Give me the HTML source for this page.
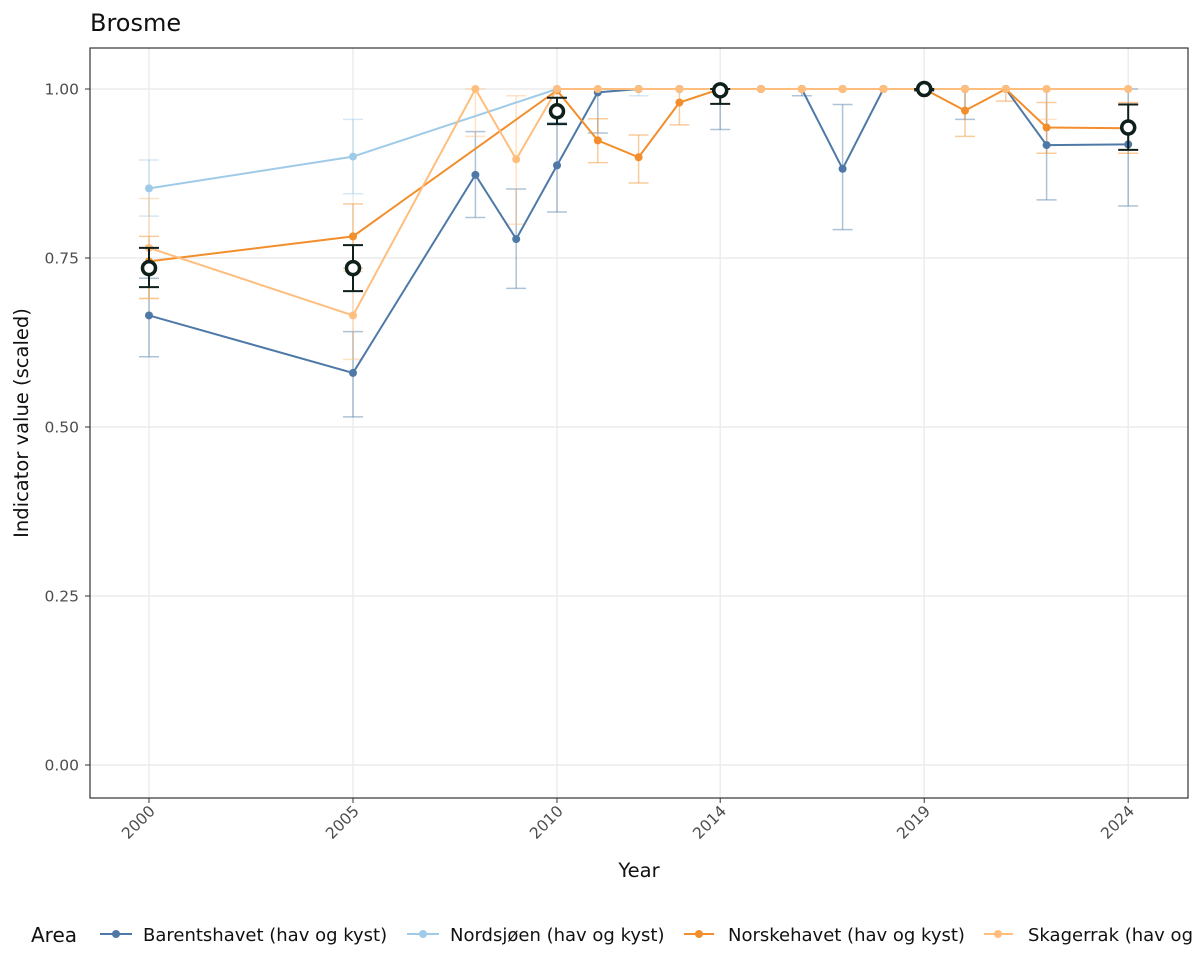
<!DOCTYPE html><html><head><meta charset="utf-8"><style>body{margin:0;background:#fff}svg{display:block;font-family:"DejaVu Sans","Liberation Sans",sans-serif}</style></head><body>
<svg id="s" width="1200" height="975" xmlns="http://www.w3.org/2000/svg">
<rect width="1200" height="975" fill="#fff"/>
<text x="90" y="31" font-size="24" fill="#111">Brosme</text>
<g id="grid"></g>
<rect x="90" y="48" width="1098" height="750" fill="none" stroke="#333" stroke-width="1.2"/>
<g id="data"></g>
<g id="axes" font-size="15.5" fill="#4d4d4d"></g>
<text x="639" y="877" font-size="19.5" text-anchor="middle" fill="#111">Year</text>
<text transform="translate(28,423) rotate(-90)" font-size="19.5" text-anchor="middle" fill="#111">Indicator value (scaled)</text>
<g font-size="18" fill="#111">
<text x="31" y="942" font-size="20">Area</text>
<line x1="100" y1="934" x2="132" y2="934" stroke="#4e79a7" stroke-width="2"/><circle cx="116" cy="934" r="4" fill="#4e79a7"/>
<text x="143" y="941">Barentshavet (hav og kyst)</text>
<line x1="407" y1="934" x2="439" y2="934" stroke="#a0cbe8" stroke-width="2"/><circle cx="423" cy="934" r="4" fill="#a0cbe8"/>
<text x="450" y="941">Nordsjøen (hav og kyst)</text>
<line x1="684" y1="934" x2="714" y2="934" stroke="#f28e2b" stroke-width="2"/><circle cx="699" cy="934" r="4" fill="#f28e2b"/>
<text x="728" y="941">Norskehavet (hav og kyst)</text>
<line x1="984" y1="934" x2="1013" y2="934" stroke="#ffbe7d" stroke-width="2"/><circle cx="998" cy="934" r="4" fill="#ffbe7d"/>
<text x="1028" y="941">Skagerrak (hav og kyst)</text>
</g>
</svg>
<script>
const NS="http://www.w3.org/2000/svg";
const X=y=>149+(y-2000)*40.8, Y=v=>765-676*v;
function el(p,t,a,txt){const e=document.createElementNS(NS,t);for(const k in a)e.setAttribute(k,a[k]);if(txt)e.textContent=txt;document.getElementById(p).appendChild(e);return e;}
[0,0.25,0.5,0.75,1].forEach(v=>{el("grid","line",{x1:90,x2:1188,y1:Y(v),y2:Y(v),stroke:"#ebebeb","stroke-width":1.4});
 el("axes","text",{x:79,y:Y(v)+5.5,"text-anchor":"end"},v.toFixed(2));el("axes","line",{x1:85,x2:90,y1:Y(v),y2:Y(v),stroke:"#333"});});
[2000,2005,2010,2014,2019,2024].forEach(y=>{el("grid","line",{x1:X(y),x2:X(y),y1:48,y2:798,stroke:"#ebebeb","stroke-width":1.4});
 el("axes","line",{x1:X(y),x2:X(y),y1:798,y2:803,stroke:"#333"});
 el("axes","text",{transform:`translate(${X(y)+7},${812}) rotate(-45)`,"text-anchor":"end"},String(y));});
const S=[
{c:"#a0cbe8",d:[[2000,.853,.812,.895],[2005,.9,.845,.955],[2010,1],[2011,1],[2012,1,.99,1],[2013,1],[2014,1],[2015,1],[2016,1],[2017,1],[2018,1],[2019,1],[2020,1],[2021,1],[2022,1],[2024,1]]},
{c:"#4e79a7",d:[[2000,.665,.604,.72],[2005,.58,.515,.641],[2008,.873,.81,.937],[2009,.778,.705,.852],[2010,.887,.818,.95],[2011,.995,.935,1],[2012,1],[2013,1],[2014,1,.94,1],[2015,1],[2016,1,.99,1],[2017,.882,.792,.977],[2018,1],[2019,1],[2020,1,.955,1],[2021,1],[2022,.917,.836,1],[2024,.918,.827,1]]},
{c:"#f28e2b",d:[[2000,.745,.69,.782],[2005,.782,.735,.83],[2010,.998],[2011,.924,.891,.956],[2012,.899,.861,.932],[2013,.98,.947,1],[2014,1],[2015,1],[2016,1],[2017,1],[2018,1],[2019,1],[2020,.968,.93,1],[2021,1,.982,1],[2022,.943,.905,.98],[2024,.942,.905,.98]]},
{c:"#ffbe7d",d:[[2000,.765,.69,.838],[2005,.665,.6,.73],[2008,1,.93,1],[2009,.896,.8,.99],[2010,1],[2011,1],[2012,1],[2013,1],[2014,1],[2015,1],[2016,1],[2017,1],[2018,1],[2019,1],[2020,1],[2021,1],[2022,1,.955,1],[2024,1]]}];
S.forEach(s=>{s.d.forEach(p=>{if(p.length>2){const x=X(p[0]);const a={stroke:s.c,"stroke-opacity":.45,"stroke-width":1.5};
 el("data","line",Object.assign({x1:x,x2:x,y1:Y(p[2]),y2:Y(p[3])},a));el("data","line",Object.assign({x1:x-10,x2:x+10,y1:Y(p[2]),y2:Y(p[2])},a));el("data","line",Object.assign({x1:x-10,x2:x+10,y1:Y(p[3]),y2:Y(p[3])},a));}});});
S.forEach(s=>{el("data","polyline",{points:s.d.map(p=>X(p[0])+","+Y(p[1])).join(" "),fill:"none",stroke:s.c,"stroke-width":2});
 s.d.forEach(p=>el("data","circle",{cx:X(p[0]),cy:Y(p[1]),r:4,fill:s.c}));});
[[2000,.735,.707,.765],[2005,.735,.701,.769],[2010,.967,.948,.987],[2014,.998,.978,1],[2019,1,.998,1],[2024,.943,.91,.977]].forEach(p=>{const x=X(p[0]);const a={stroke:"#0f1f1c","stroke-width":2};
 el("data","line",Object.assign({x1:x,x2:x,y1:Y(p[2]),y2:Y(p[3])},a));el("data","line",Object.assign({x1:x-10,x2:x+10,y1:Y(p[2]),y2:Y(p[2])},a));el("data","line",Object.assign({x1:x-10,x2:x+10,y1:Y(p[3]),y2:Y(p[3])},a));
 el("data","circle",{cx:x,cy:Y(p[1]),r:6.5,fill:"#fff",stroke:"#0f1f1c","stroke-width":3.5});});
</script>
</body></html>
